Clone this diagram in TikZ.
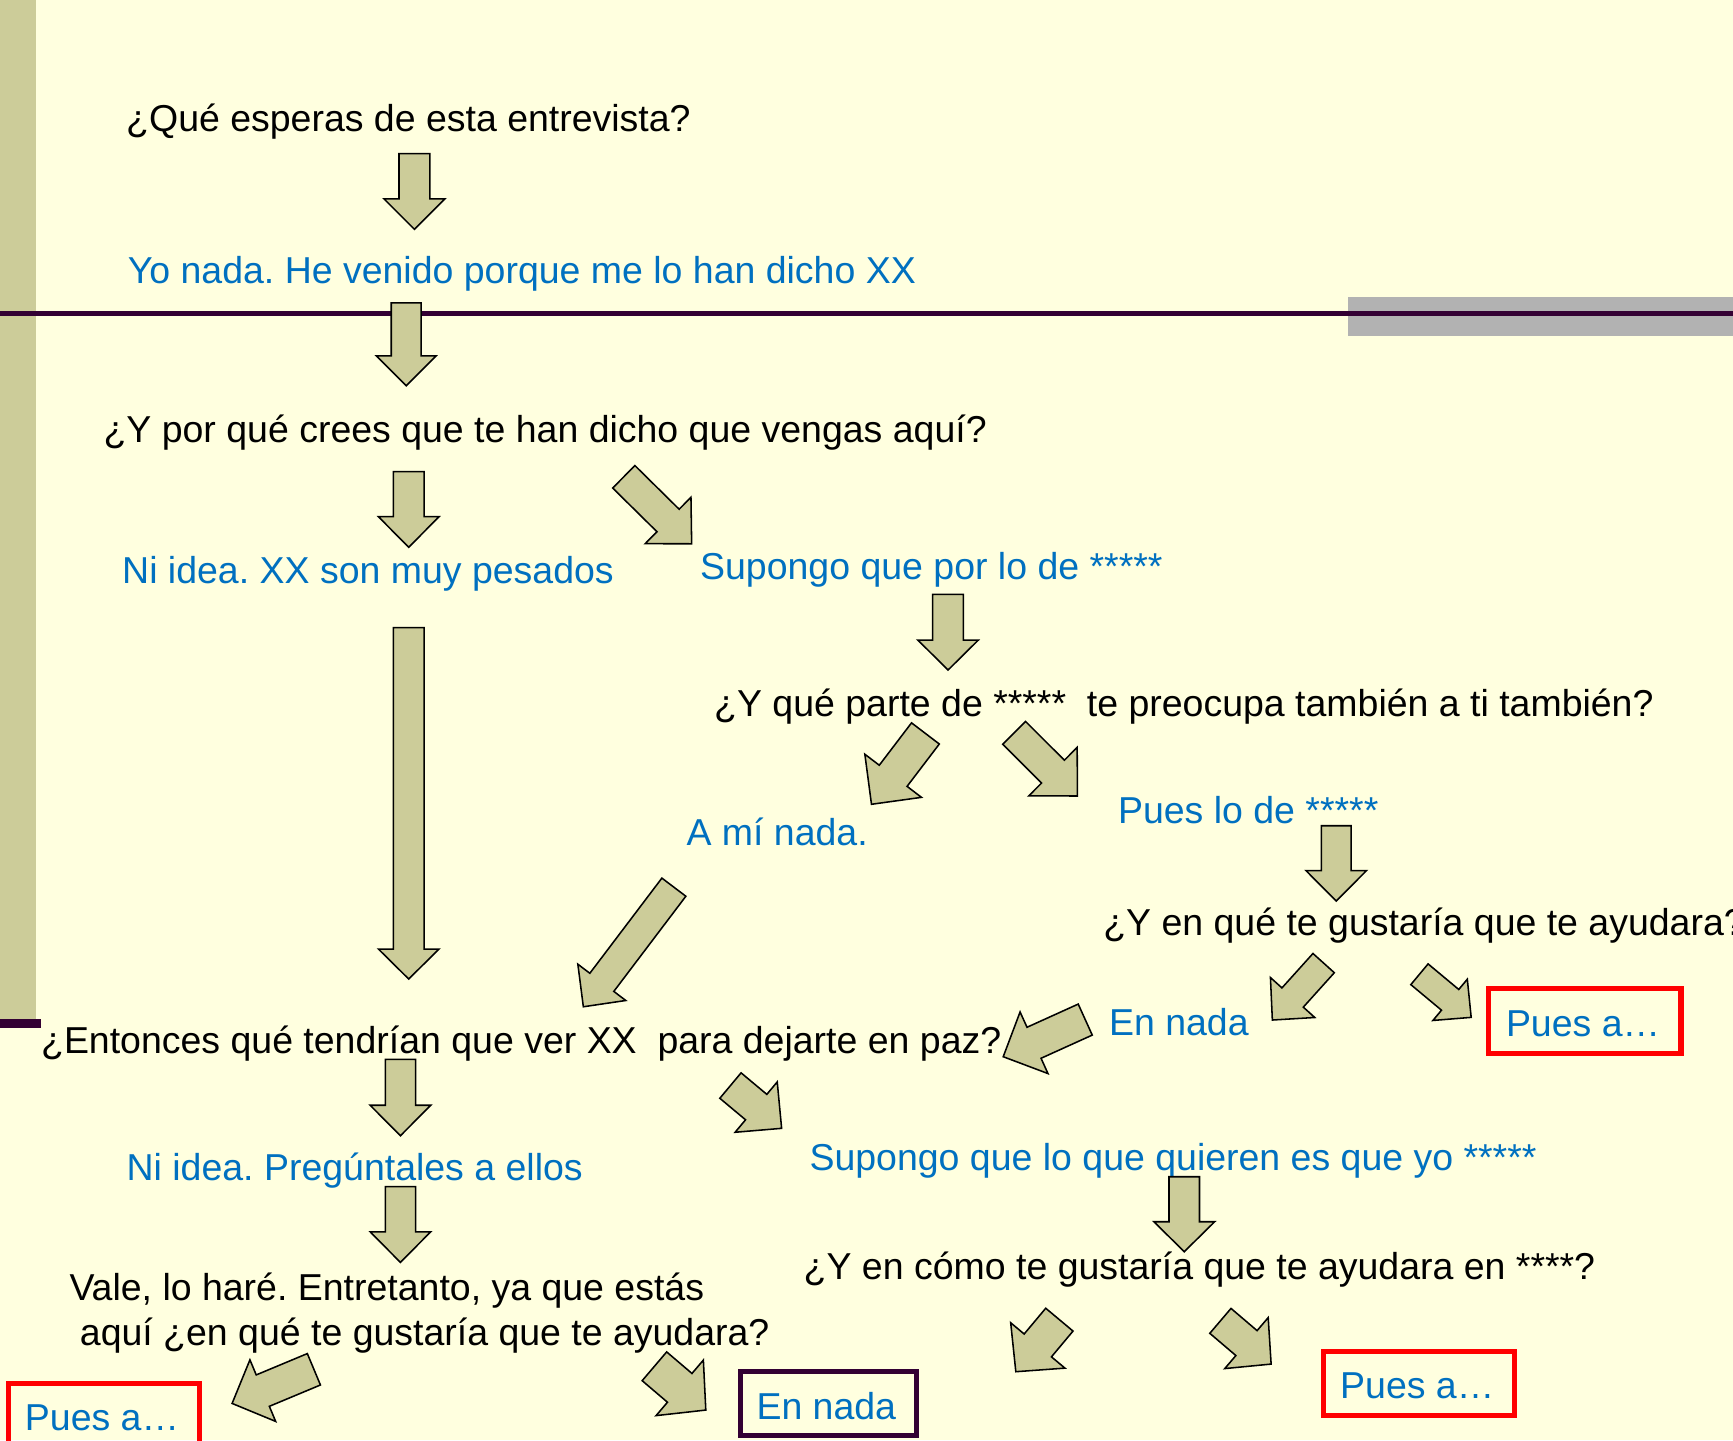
\documentclass[tikz,border=0pt]{standalone}
\usepackage{fontspec}
\setmainfont{Liberation Sans}
\usetikzlibrary{calc}
\definecolor{bg}{RGB}{255,255,223}
\definecolor{khaki}{RGB}{204,204,153}
\definecolor{tblue}{RGB}{0,112,192}
\definecolor{dpurple}{RGB}{51,0,51}
\definecolor{gbar}{RGB}{178,178,178}
\newcommand\blockarrow[5]{%
  \coordinate (bab) at ($(#2)!#5!(#1)$);
  \draw[barrow] ($(#1)!#3!90:(#2)$) -- ($(bab)!#3!90:(#2)$) -- ($(bab)!#4!90:(#2)$) -- (#2)
    -- ($(bab)!#4!-90:(#2)$) -- ($(bab)!#3!-90:(#2)$) -- ($(#1)!#3!-90:(#2)$) -- cycle;}
\frenchspacing
\begin{document}
\begin{tikzpicture}[x=1pt,y=-1pt,
  font=\fontsize{33.9pt}{40.2pt}\selectfont\frenchspacing,
  q/.style={text=black,inner sep=0pt,anchor=base west},
  ans/.style={text=tblue,inner sep=0pt,anchor=base west},
  barrow/.style={fill=khaki,draw=black,line width=1.4pt,line join=miter},
  redbox/.style={draw=red,line width=4.6pt},
  darkbox/.style={draw=dpurple,line width=4.6pt}]
\fill[bg] (0,0) rectangle (1568,1303);
\useasboundingbox (0,0) rectangle (1568,1303);
\clip (0,0) rectangle (1568,1303);
% decorations
\fill[khaki] (0,0) rectangle (33,922);
\fill[dpurple] (0,922) rectangle (37,930);
\fill[gbar] (1220,269) rectangle (1568,304);
\fill[dpurple] (0,281.8) rectangle (1568,286);
% texts
\node[q] (t1) at (114,119) {¿Qué esperas de esta entrevista?};
\node[ans] (t2) at (115.5,256.4) {Yo nada. He venido porque me lo han dicho XX};
\node[q] (t3) at (93.5,400) {¿Y por qué crees que te han dicho que vengas aquí?};
\node[ans] (t4) at (110.4,528) {Ni idea. XX son muy pesados};
\node[ans] (t5) at (633.3,524) {Supongo que por lo de *****};
\node[q] (t6) at (646,648) {¿Y qué parte de *****\ \ te preocupa también a ti también?};
\node[ans] (t7) at (621,765) {A mí nada.};
\node[ans] (t8) at (1011.4,745.5) {Pues lo de *****};
\node[q] (t9) at (998,846.5) {¿Y en qué te gustaría que te ayudara?};
\node[ans] (t10) at (1003.3,937) {En nada};
\node[ans] (t11) at (1362.4,937.5) {Pues a…};
\node[q] (t12) at (37,953) {¿Entonces qué tendrían que ver XX\ \ para dejarte en paz?};
\node[ans] (t13) at (114.4,1068) {Ni idea. Pregúntales a ellos};
\node[ans] (t14) at (732.3,1059) {Supongo que lo que quieren es que yo *****};
\node[q] (t15) at (727,1158) {¿Y en cómo te gustaría que te ayudara en ****?};
\node[q,align=left] (t16) at (62.7,1217) {Vale, lo haré. Entretanto, ya que estás\\\hspace*{0.278em}aquí ¿en qué te gustaría que te ayudara?};
\node[ans] (t17) at (22.4,1294.4) {Pues a…};
\node[ans] (t18) at (684.3,1284.5) {En nada};
\node[ans] (t19) at (1212.4,1265.5) {Pues a…};
% boxes
\draw[redbox] (1347.1,894.5) rectangle (1520.9,953.2);
\draw[redbox] (7.4,1251.5) rectangle (180.3,1330);
\draw[redbox] (1197.5,1223.2) rectangle (1370.6,1280.4);
\draw[darkbox] (670.1,1241.3) rectangle (829.3,1299.1);
% arrow end points
\coordinate (a1s) at (375,139);      \coordinate (a1e) at (375,207.5);
\coordinate (a2s) at (367.5,274);    \coordinate (a2e) at (367.5,349);
\coordinate (a3s) at (369.8,426.8);  \coordinate (a3e) at (369.8,495.2);
\coordinate (a4s) at (564.4,431.4);  \coordinate (a4e) at (625.8,492);
\coordinate (a5s) at (857.8,537.8);  \coordinate (a5e) at (857.8,606.2);
\coordinate (a6s) at (369.8,567.9);  \coordinate (a6e) at (369.8,885.8);
\coordinate (a7s) at (837.3,663.6);  \coordinate (a7e) at (788.5,727.7);
\coordinate (a8s) at (917.6,663.1);  \coordinate (a8e) at (974.8,720.2);
\coordinate (a9s) at (1209,747.1);   \coordinate (a9e) at (1209,815.2);
\coordinate (a10s) at (609.7,802.7); \coordinate (a10e) at (527.8,910.9);
\coordinate (a11s) at (1197.6,871.4);\coordinate (a11e) at (1151.2,922.9);
\coordinate (a12s) at (1284.3,881.5);\coordinate (a12e) at (1331.1,920.5);
\coordinate (a13s) at (981.9,922.5); \coordinate (a13e) at (907.7,956.1);
\coordinate (a14s) at (362.3,958.5); \coordinate (a14e) at (362.3,1027.6);
\coordinate (a15s) at (660.9,982.2); \coordinate (a15e) at (707.2,1020.9);
\coordinate (a16s) at (362.3,1073.7);\coordinate (a16e) at (362.3,1142.2);
\coordinate (a17s) at (1071.5,1064.7);\coordinate (a17e) at (1071.5,1132.5);
\coordinate (a18s) at (284,1238.9);  \coordinate (a18e) at (210,1269.8);
\coordinate (a19s) at (592.1,1236.2);\coordinate (a19e) at (638.6,1275.8);
\coordinate (a20s) at (958.5,1194);  \coordinate (a20e) at (919.1,1241.1);
\coordinate (a21s) at (1104.2,1195.1);\coordinate (a21e) at (1150.1,1234.2);
% block arrows
\blockarrow{a1s}{a1e}{14pt}{27.5pt}{27.5pt}
\blockarrow{a2s}{a2e}{13.5pt}{27pt}{27pt}
\blockarrow{a3s}{a3e}{13.9pt}{27.4pt}{27.7pt}
\blockarrow{a4s}{a4e}{14.3pt}{29.5pt}{30pt}
\blockarrow{a5s}{a5e}{13.9pt}{27.4pt}{27.1pt}
\blockarrow{a6s}{a6e}{13.9pt}{27.4pt}{27.1pt}
\blockarrow{a7s}{a7e}{15.8pt}{32.2pt}{32.4pt}
\blockarrow{a8s}{a8e}{14.6pt}{31pt}{31.2pt}
\blockarrow{a9s}{a9e}{13.5pt}{27.3pt}{27.4pt}
\blockarrow{a10s}{a10e}{13.6pt}{27.2pt}{27.7pt}
\blockarrow{a11s}{a11e}{13pt}{27pt}{27.4pt}
\blockarrow{a12s}{a12e}{12.2pt}{24.3pt}{24.8pt}
\blockarrow{a13s}{a13e}{15.4pt}{30.6pt}{30.6pt}
\blockarrow{a14s}{a14e}{13.7pt}{27.4pt}{27.6pt}
\blockarrow{a15s}{a15e}{15pt}{29.7pt}{30pt}
\blockarrow{a16s}{a16e}{13.7pt}{27.4pt}{27.7pt}
\blockarrow{a17s}{a17e}{13.8pt}{27.5pt}{27.1pt}
\blockarrow{a18s}{a18e}{15.4pt}{30.2pt}{30.1pt}
\blockarrow{a19s}{a19e}{17.1pt}{33pt}{31pt}
\blockarrow{a20s}{a20e}{16.1pt}{32pt}{31pt}
\blockarrow{a21s}{a21e}{14.8pt}{30.3pt}{29.3pt}
\end{tikzpicture}
\end{document}
